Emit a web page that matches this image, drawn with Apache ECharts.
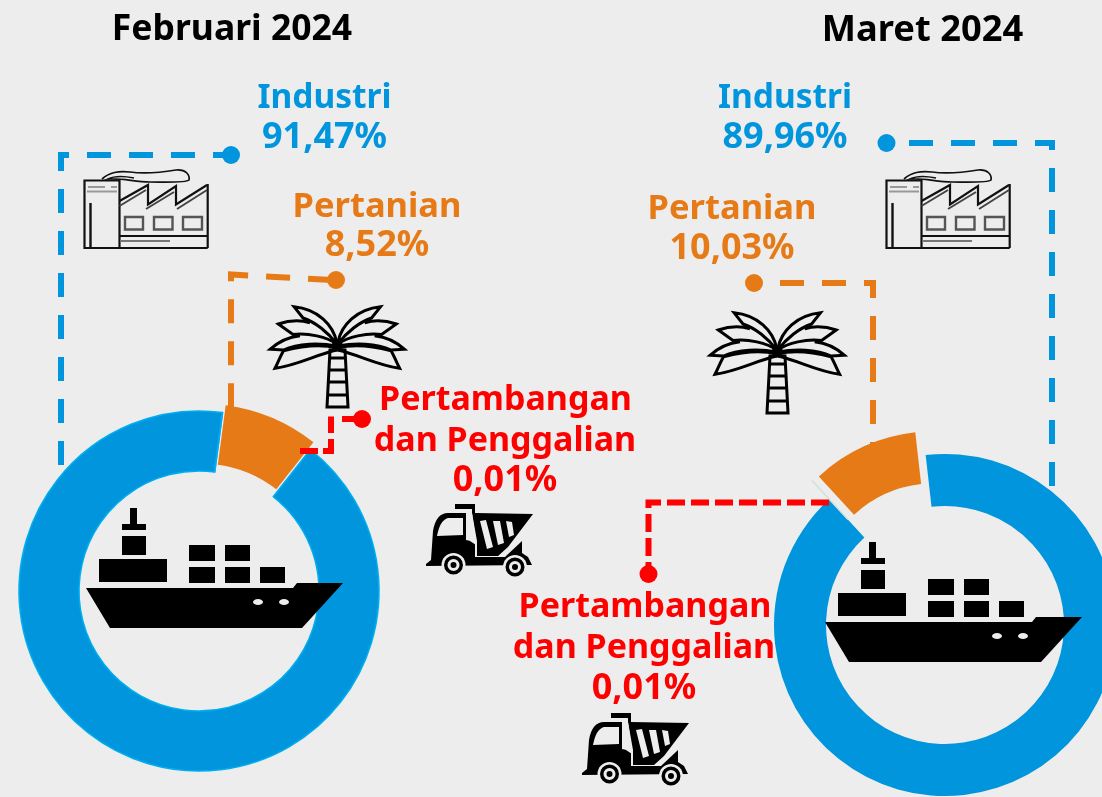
<!DOCTYPE html>
<html><head><meta charset="utf-8">
<style>html,body{margin:0;padding:0;background:#EDEDED}#c{width:1102px;height:797px}</style>
<script src="https://cdn.jsdelivr.net/npm/echarts@6/dist/echarts.min.js"></script>
</head><body><div id="c"></div>
<script>
const sectors = ['Industri', 'Pertambangan dan Penggalian', 'Pertanian'];
const febValues = [91.47, 0.01, 8.52];
const marValues = [89.96, 0.01, 10.03];
const periods = ['Februari 2024', 'Maret 2024'];
const febLabels = ['91,47%', '0,01%', '8,52%'];
const marLabels = ['89,96%', '0,01%', '10,03%'];

const BLUE = '#0095DD', ORANGE = '#E67A17', RED = '#FF0000', BG = '#EDEDED';
const TOP = 10;

const ship = [
  {d:'M16 98 L223 98 L227 93 L273 93 L232 138 L40 138 Z'},
  {d:'M60 18 h7 v17 h-7 Z'}, {d:'M52 34 h24 v6 h-24 Z'}, {d:'M52 46 h24 v19 h-24 Z'},
  {d:'M29 69 h68 v23 h-68 Z'}, {d:'M119 55 h26 v16 h-26 Z'}, {d:'M155 55 h25 v16 h-25 Z'},
  {d:'M119 77 h26 v16 h-26 Z'}, {d:'M155 77 h25 v16 h-25 Z'}, {d:'M190 77 h25 v16 h-25 Z'},
  {d:'M183 112 a5 3 0 1 0 10 0 a5 3 0 1 0 -10 0 Z', fill:BG},
  {d:'M209 112 a5 3 0 1 0 10 0 a5 3 0 1 0 -10 0 Z', fill:BG}
];
const K = '#111111';
const line = (d, w) => ({d, fill:'none', stroke:K, lineWidth:w || 2});
const factory = [
  line('M0.5 12.5 H35.5 V80 H0.5 Z', 2.2), line('M6.5 35 V80', 2.4),
  line('M35.5 68 H123.7 M0 80 H123.7', 2.2),
  line('M123.7 16 V80', 2.2),
  {d:'M4 19 H21 M27 19 H33 M3 23.5 H33', fill:'none', stroke:'#999', lineWidth:1.8},
  {d:'M36 73 H86', fill:'none', stroke:'#777', lineWidth:1.8},
  line('M35.5 33 L64 17 V36.5 L92 18 V36.5 L123 17', 2.2),
  {d:'M35.5 38 L62 22 M62 41 L90 24 M93 41 L123 22', fill:'none', stroke:'#444', lineWidth:2},
  {d:'M41 49 h18 v12.5 h-18 Z M70 49 h18.5 v12.5 h-18.5 Z M99 49 h19 v12.5 h-19 Z', fill:'none', stroke:'#555', lineWidth:2.4},
  line('M18 11 C26 4 34 3 46 4 C60 6 74 5 92 2 C102 1 106 7 105 12 C102 15 80 14 66 14 C50 14 40 10 24 11 C30 8 40 8 50 10', 1.7)
];
const halfPalm = [
  'M71.7 42 C68 25 53 9 29 6.7 L38 18 C50 22 63 32 71.7 44',
  'M45 22.7 C33 19 22 21 13.3 24 L28 34.5 C43 32.5 62 37 71.7 44',
  'M35 35.7 C22 37 12 43 5 49.3 L18.5 50 C33 43 55 42.7 71.7 46',
  'M71.7 48 C53 43 33 47 18.5 50.7 C15 57 12.7 63 10 68.3 C33 65 50 55 71.7 50'
];
const palm = [];
halfPalm.forEach(d => {
  palm.push({d, fill:'none', stroke:'#000', lineWidth:3});
  palm.push({d, fill:'none', stroke:'#000', lineWidth:3, mirror:true});
});
palm.push({d:'M72.3 40 a5.5 5.5 0 1 0 0.01 0 Z'});
palm.push({d:'M65 50 L80 50 L83 107 L62 107 Z M64.5 58 H80.5 M64 70 H81 M63.5 82 H81.5 M63 95 H82', fill:'none', stroke:'#000', lineWidth:3});
const truck = [
  {d:'M6 69 L11 65 L13 36 Q16 18 28 18 L46 18 L46 45 L55 47 L55 62 L85 62 L102 46 L102 58 L108 62 L112 70 L6 71 Z'},
  {d:'M35 9 L55 9 L55 18 L113 19 L88 52 L78 61 L57 61 L57 46 L52 18 L52 14 L35 14 Z'},
  {d:'M17 41 L43 40 L43 23 L28 23 Q20 25 17 41 Z', fill:BG},
  {d:'M48 18 L52 18 L56 46 L56 50 L50 46 Z', fill:BG},
  {d:'M60 26 L66 25 L73 52 L67 54 Z M73 26 L80 26 L84 48 L78 50 Z M86 26 L92 27 L94 40 L89 42 Z', fill:BG},
  {d:'M33.5 70 m-12 0 a12 12 0 1 0 24 0 a12 12 0 1 0 -24 0 Z', fill:BG},
  {d:'M95 72 m-12 0 a12 12 0 1 0 24 0 a12 12 0 1 0 -24 0 Z', fill:BG},
  {d:'M33.5 70 m-9.5 0 a9.5 9.5 0 1 0 19 0 a9.5 9.5 0 1 0 -19 0 Z M33.5 70 m-6 0 a6 6 0 1 1 12 0 a6 6 0 1 1 -12 0 Z M33.5 70 m-3 0 a3 3 0 1 0 6 0 a3 3 0 1 0 -6 0 Z'},
  {d:'M95 72 m-9.5 0 a9.5 9.5 0 1 0 19 0 a9.5 9.5 0 1 0 -19 0 Z M95 72 m-6 0 a6 6 0 1 1 12 0 a6 6 0 1 1 -12 0 Z M95 72 m-3 0 a3 3 0 1 0 6 0 a3 3 0 1 0 -6 0 Z'}
];

let shapeId = 0;
function icon(parts, x, y, mirrorW) {
  return {type:'group', x, y, children: parts.map(p => {
    const name = 'iconPart' + (shapeId++);
    echarts.graphic.registerShape(name, echarts.graphic.extendPath(p.d, {}));
    return {
      type:name, silent:true, z:TOP,
      x: p.mirror ? mirrorW : 0, scaleX: p.mirror ? -1 : 1,
      style:{fill: p.fill === 'none' ? null : (p.fill || '#000'), stroke: p.stroke || null, lineWidth: p.lineWidth || 0}
    };
  })};
}
function leader(points, color, dash, w, offset) {
  return {type:'polyline', silent:true, z:TOP, shape:{points},
    style:{fill:null, stroke:color, lineWidth:w, lineDash:dash, lineDashOffset:offset || 0, lineCap:'butt', lineJoin:'miter'}};
}
function dot(x, y, color) {
  return {type:'circle', silent:true, z:TOP, shape:{cx:x, cy:y, r:9}, style:{fill:color}};
}
function label(text, x, y, color, size) {
  return {type:'text', silent:true, z:TOP, x, y, style:{text, fill:color, font:'bold ' + size + 'px "Noto Sans"',
    align:'center', verticalAlign:'middle'}};
}
function pie(center, radius, start, vals, offset, traceColor, border) {
  return {
    type:'pie', center, radius, startAngle:start, clockwise:true, animation:false, silent:true,
    selectedMode:'multiple', selectedOffset:offset, label:{show:false}, labelLine:{show:false},
    minShowLabelAngle:0, avoidLabelOverlap:false,
    data:[
      {name:sectors[0], value:vals[0], itemStyle:{color:BLUE, borderColor:border, borderWidth:border ? 1.5 : 0}},
      {name:sectors[1], value:vals[1], selected:traceColor !== '#00AEEF',
       itemStyle:{color:traceColor, borderColor:traceColor, borderWidth:1.5}},
      {name:sectors[2], value:vals[2], selected:true, itemStyle:{color:ORANGE}}
    ]
  };
}
const mining = sectors[1].split(' dan ');
const graphicEls = [
  leader([[231,155],[61,155],[61,465]], BLUE, [24,18], 6, 6), dot(231,155,BLUE),
  leader([[332,280],[231,274.5],[231,407]], ORANGE, [24,18], 6), dot(336,280,ORANGE),
  leader([[356,419],[342,419]], RED, null, 6),
  leader([[334,419.5],[331,419.5],[331,433]], RED, null, 6),
  leader([[331,439],[331,451],[323,451]], RED, null, 6),
  leader([[318,451],[300,451]], RED, null, 6),
  dot(362,419,RED),
  leader([[909,143],[1052,143],[1052,488]], BLUE, [24,18], 6), dot(886.5,143,BLUE),
  leader([[780,283],[873,283],[873,444]], ORANGE, [24,18], 6), dot(754,283,ORANGE),
  leader([[648.5,574],[648.5,502.5],[829,502.5]], RED, [18,6], 6, 6), dot(648.5,574,RED),
  label(periods[0], 232, 30, '#000', 35.5),
  label(periods[1], 922.5, 31, '#000', 36.3),
  label(sectors[0], 324.5, 98, BLUE, 33.5),
  label(febLabels[0], 324.5, 138, BLUE, 36),
  label(sectors[2], 377, 207, ORANGE, 34.5),
  label(febLabels[2], 377, 246, ORANGE, 36),
  label(mining[0], 505.5, 400, RED, 34),
  label('dan ' + mining[1], 505, 441, RED, 34),
  label(febLabels[1], 505, 481, RED, 36),
  label(sectors[0], 785, 98, BLUE, 33.5),
  label(marLabels[0], 785, 138, BLUE, 36),
  label(sectors[2], 732, 209, ORANGE, 34.5),
  label(marLabels[2], 732, 249, ORANGE, 36),
  label(mining[0], 645, 607, RED, 34),
  label('dan ' + mining[1], 644, 648, RED, 34),
  label(marLabels[1], 644, 689, RED, 36),
  icon(ship, 70, 490),
  icon(ship, 809, 524),
  icon(factory, 84, 168),
  icon(factory, 886, 168),
  icon(palm, 265, 300, 144.6),
  icon(palm, 705, 306, 144.6),
  icon(truck, 420, 495),
  icon(truck, 576, 704)
];
const chart = echarts.init(document.getElementById('c'), null, {renderer:'canvas'});
chart.setOption({
  backgroundColor:BG, animation:false,
  series:[
    pie([199,591], [120,180], 51.8, febValues, 8, '#00AEEF', '#00AEEF'),
    pie([945,625], [119,171], 96.5, marValues, 25, '#cfe3dc', null)
  ],
  graphic:{elements:graphicEls}
});
</script></body></html>
